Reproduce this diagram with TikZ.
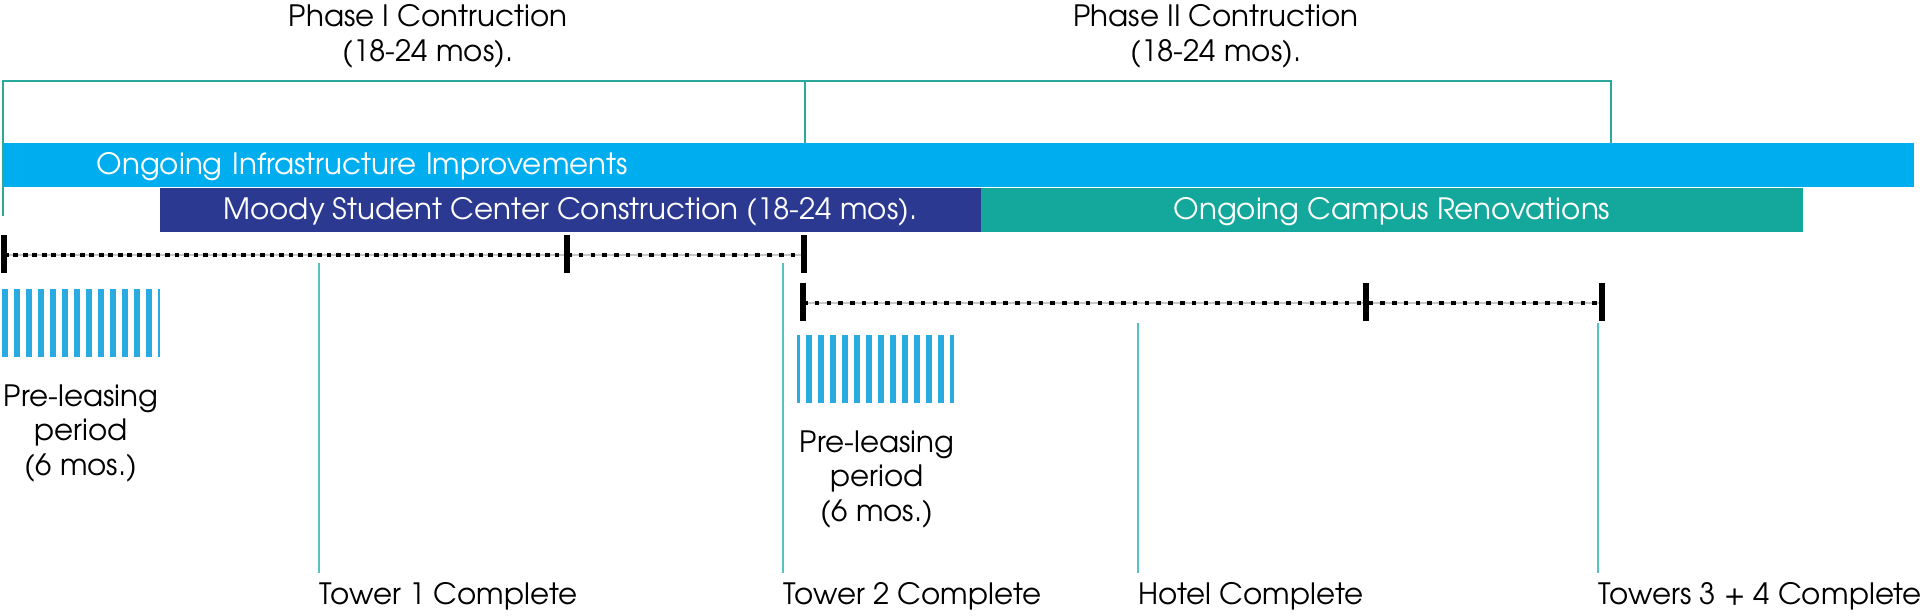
\documentclass[tikz,border=0pt]{standalone}
\usepackage{fontspec}
\setmainfont{TeX Gyre Adventor}
\usetikzlibrary{positioning}
\definecolor{infra}{HTML}{00AEEF}
\definecolor{moody}{HTML}{2B3990}
\definecolor{campus}{HTML}{14A89C}
\definecolor{phase}{HTML}{2AA89B}
\definecolor{marker}{HTML}{55C3C0}
\definecolor{lease}{HTML}{29ABE2}
\tikzset{
    bar/.style = {rectangle, inner sep=0pt,
        minimum height=0.44cm,
        text height=0.21cm, text depth=0.01cm,
        text=white, anchor=north west},
    bracket/.style = {draw=phase, line width=0.7pt},
    marker/.style = {draw=marker, line width=0.45pt},
    track/.style = {draw, line width=1.3pt, dash pattern=on 1.3pt off 2.05pt},
    densetrack/.style = {track, dash pattern=on 1.3pt off 1.4pt},
    trackbase/.style = {draw=black!22, line width=0.35pt},
    tickmark/.style = {draw, line width=1.8pt},
    caption/.style = {inner sep=0pt, anchor=base west},
    note/.style = {inner sep=0pt, anchor=north, align=center}
}

\begin{document}
\begin{tikzpicture}[x=0.01cm, y=-0.01cm, font=\fontsize{8.35}{9.8}\selectfont]
    \useasboundingbox (0,0) rectangle (1920,616);
    \node[note] (ph1txt) at (428,4) {Phase I Contruction\\(18-24 mos).};
    \node[note] (ph2txt) at (1216,4) {Phase II Contruction\\(18-24 mos).};
    \coordinate (ph1) at (3,216);
    \coordinate (ph2) at (805,81);
    \coordinate (ph3) at (1611,187);
    \draw[bracket] (ph1) |- (ph2) -- (ph2 |- ph3);
    \draw[bracket] (ph2) -| (ph3);
    \node[bar, fill=infra, minimum width=19.09cm, text width=17.23cm, inner xsep=0.93cm, align=left] (infra) at (3,142) {Ongoing Infrastructure Improvements};
    \node[bar, fill=moody, minimum width=8.21cm] (moody) at (159,187) {Moody Student Center Construction (18-24 mos).};
    \node[bar, fill=campus, minimum width=8.22cm] (campus) at (980,187) {Ongoing Campus Renovations};
    \coordinate (a0) at (4,255);
    \coordinate (a1) at (567,255);
    \coordinate (a2) at (804,255);
    \coordinate (b0) at (803,303);
    \coordinate (b1) at (1366,303);
    \coordinate (b2) at (1602,303);
    \draw[trackbase] (a0) -- (a2);
    \draw[trackbase] (b0) -- (b2);
    \draw[densetrack] (a0) -- (a1);
    \draw[track] (a1) -- (a2);
    \draw[track] (b0) -- (b2);
    \foreach \p in {a0,a1,a2,b0,b1,b2}
        \draw[tickmark] ([yshift=0.2cm]\p) -- ([yshift=-0.18cm]\p);
    \foreach \k in {0,...,12}
        \fill[lease] ({2+12*\k},289) rectangle +(6,68);
    \fill[lease] (158,289) rectangle +(2,68);
    \fill[lease] (797,335) rectangle +(3,68);
    \foreach \k in {0,...,11}
        \fill[lease] ({806+12*\k},335) rectangle +(6,68);
    \fill[lease] (950,335) rectangle +(4,68);
    \node[note] (lease1) at (81,384) {Pre-leasing\\period\\(6 mos.)};
    \node[note] (lease2) at (877,430) {Pre-leasing\\period\\(6 mos.)};
    \node[caption] (t1) at (319,605) {Tower 1 Complete};
    \node[caption] (t2) at (783,605) {Tower 2 Complete};
    \node[caption] (hotel) at (1138,605) {Hotel Complete};
    \node[caption] (t34) at (1598,605) {Towers 3 + 4 Complete};
    \coordinate (t1top) at (319,263);
    \coordinate (t2top) at (783,263);
    \coordinate (hoteltop) at (1138,323);
    \coordinate (t34top) at (1598,323);
    \draw[marker] (t1top) -- (t1top |- 0,573);
    \draw[marker] (t2top) -- (t2top |- 0,573);
    \draw[marker] (hoteltop) -- (hoteltop |- 0,573);
    \draw[marker] (t34top) -- (t34top |- 0,573);
\end{tikzpicture}
\end{document}
